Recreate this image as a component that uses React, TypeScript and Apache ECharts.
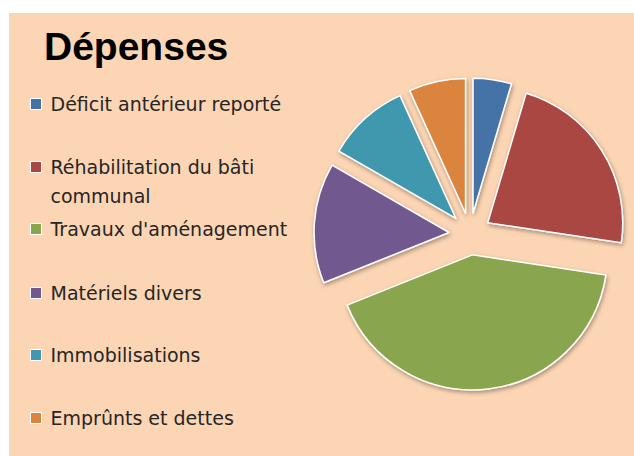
import React, { useEffect, useRef } from "react";
import * as echarts from "echarts";

const categories = [
  "Déficit antérieur reporté",
  "Réhabilitation du bâti communal",
  "Travaux d'aménagement",
  "Matériels divers",
  "Immobilisations",
  "Emprûnts et dettes",
];
const legendLabels = [
  "Déficit antérieur reporté",
  "Réhabilitation du bâti\ncommunal",
  "Travaux d'aménagement",
  "Matériels divers",
  "Immobilisations",
  "Emprûnts et dettes",
];
const values = [4.6, 22.8, 41.6, 14.4, 9.9, 6.8];
const colors = ["#4572A7", "#AA4643", "#89A54E", "#71588F", "#4198AF", "#DB843D"];

// layout: vertical centers of legend markers
const legendCenters = [104, 167, 229, 293, 355, 418];

export default function App() {
  const ref = useRef<HTMLDivElement>(null);
  useEffect(() => {
    document.body.style.margin = "0";
    if (!ref.current) return;
    const chart = echarts.init(ref.current, null, { renderer: "svg" });
    const LH = 20;
    const LH2 = 29;
    const legends = categories.map((name, i) => {
      const two = legendLabels[i].includes("\n");
      return {
        orient: "vertical",
        left: 30,
        top: two ? legendCenters[i] - (LH2 * 3) / 2 : legendCenters[i] - LH / 2,
        padding: 0,
        selectedMode: false,
        icon: "rect",
        itemWidth: 11,
        itemHeight: 11,
        itemStyle: { borderColor: "#ffffff", borderWidth: 1, shadowBlur: 0, shadowOffsetX: 0, shadowOffsetY: 0 },
        data: [name],
        // a leading blank line keeps the marker level with the first text line
        formatter: () => (two ? "\n" + legendLabels[i] : legendLabels[i]),
        textStyle: {
          fontFamily: "DejaVu Sans",
          fontSize: 19,
          color: "#262626",
          lineHeight: two ? LH2 : LH,
          padding: [0, 0, 0, 4],
        },
      };
    });
    chart.setOption({
      animation: false,
      backgroundColor: "#ffffff",
      color: colors,
      title: {
        text: "Dépenses",
        left: 44,
        top: 27,
        padding: 0,
        textStyle: {
          fontFamily: "Liberation Sans",
          fontWeight: "bold",
          fontSize: 39,
          color: "#000000",
        },
      },
      graphic: [
        {
          type: "rect",
          left: 9,
          top: 13,
          z: -10,
          shape: { width: 625, height: 443 },
          style: { fill: "#FCD5B4" },
        },
      ],
      legend: legends,
      series: [
        {
          type: "pie",
          center: [470, 234],
          radius: 135,
          startAngle: 90,
          clockwise: true,
          selectedMode: "multiple",
          selectedOffset: 21,
          label: { show: false },
          labelLine: { show: false },
          emphasis: { disabled: true },
          itemStyle: {
            borderColor: "#ffffff",
            borderWidth: 1.5,
            shadowBlur: 4,
            shadowColor: "rgba(0,0,0,0.35)",
            shadowOffsetX: 1,
            shadowOffsetY: 2,
          },
          select: {
            itemStyle: {
              borderColor: "#ffffff",
              borderWidth: 1.5,
            },
          },
          data: categories.map((name, i) => ({
            name,
            value: values[i],
            selected: true,
          })),
        },
      ],
    });
    return () => chart.dispose();
  }, []);
  return <div ref={ref} style={{ width: 634, height: 456 }} />;
}
